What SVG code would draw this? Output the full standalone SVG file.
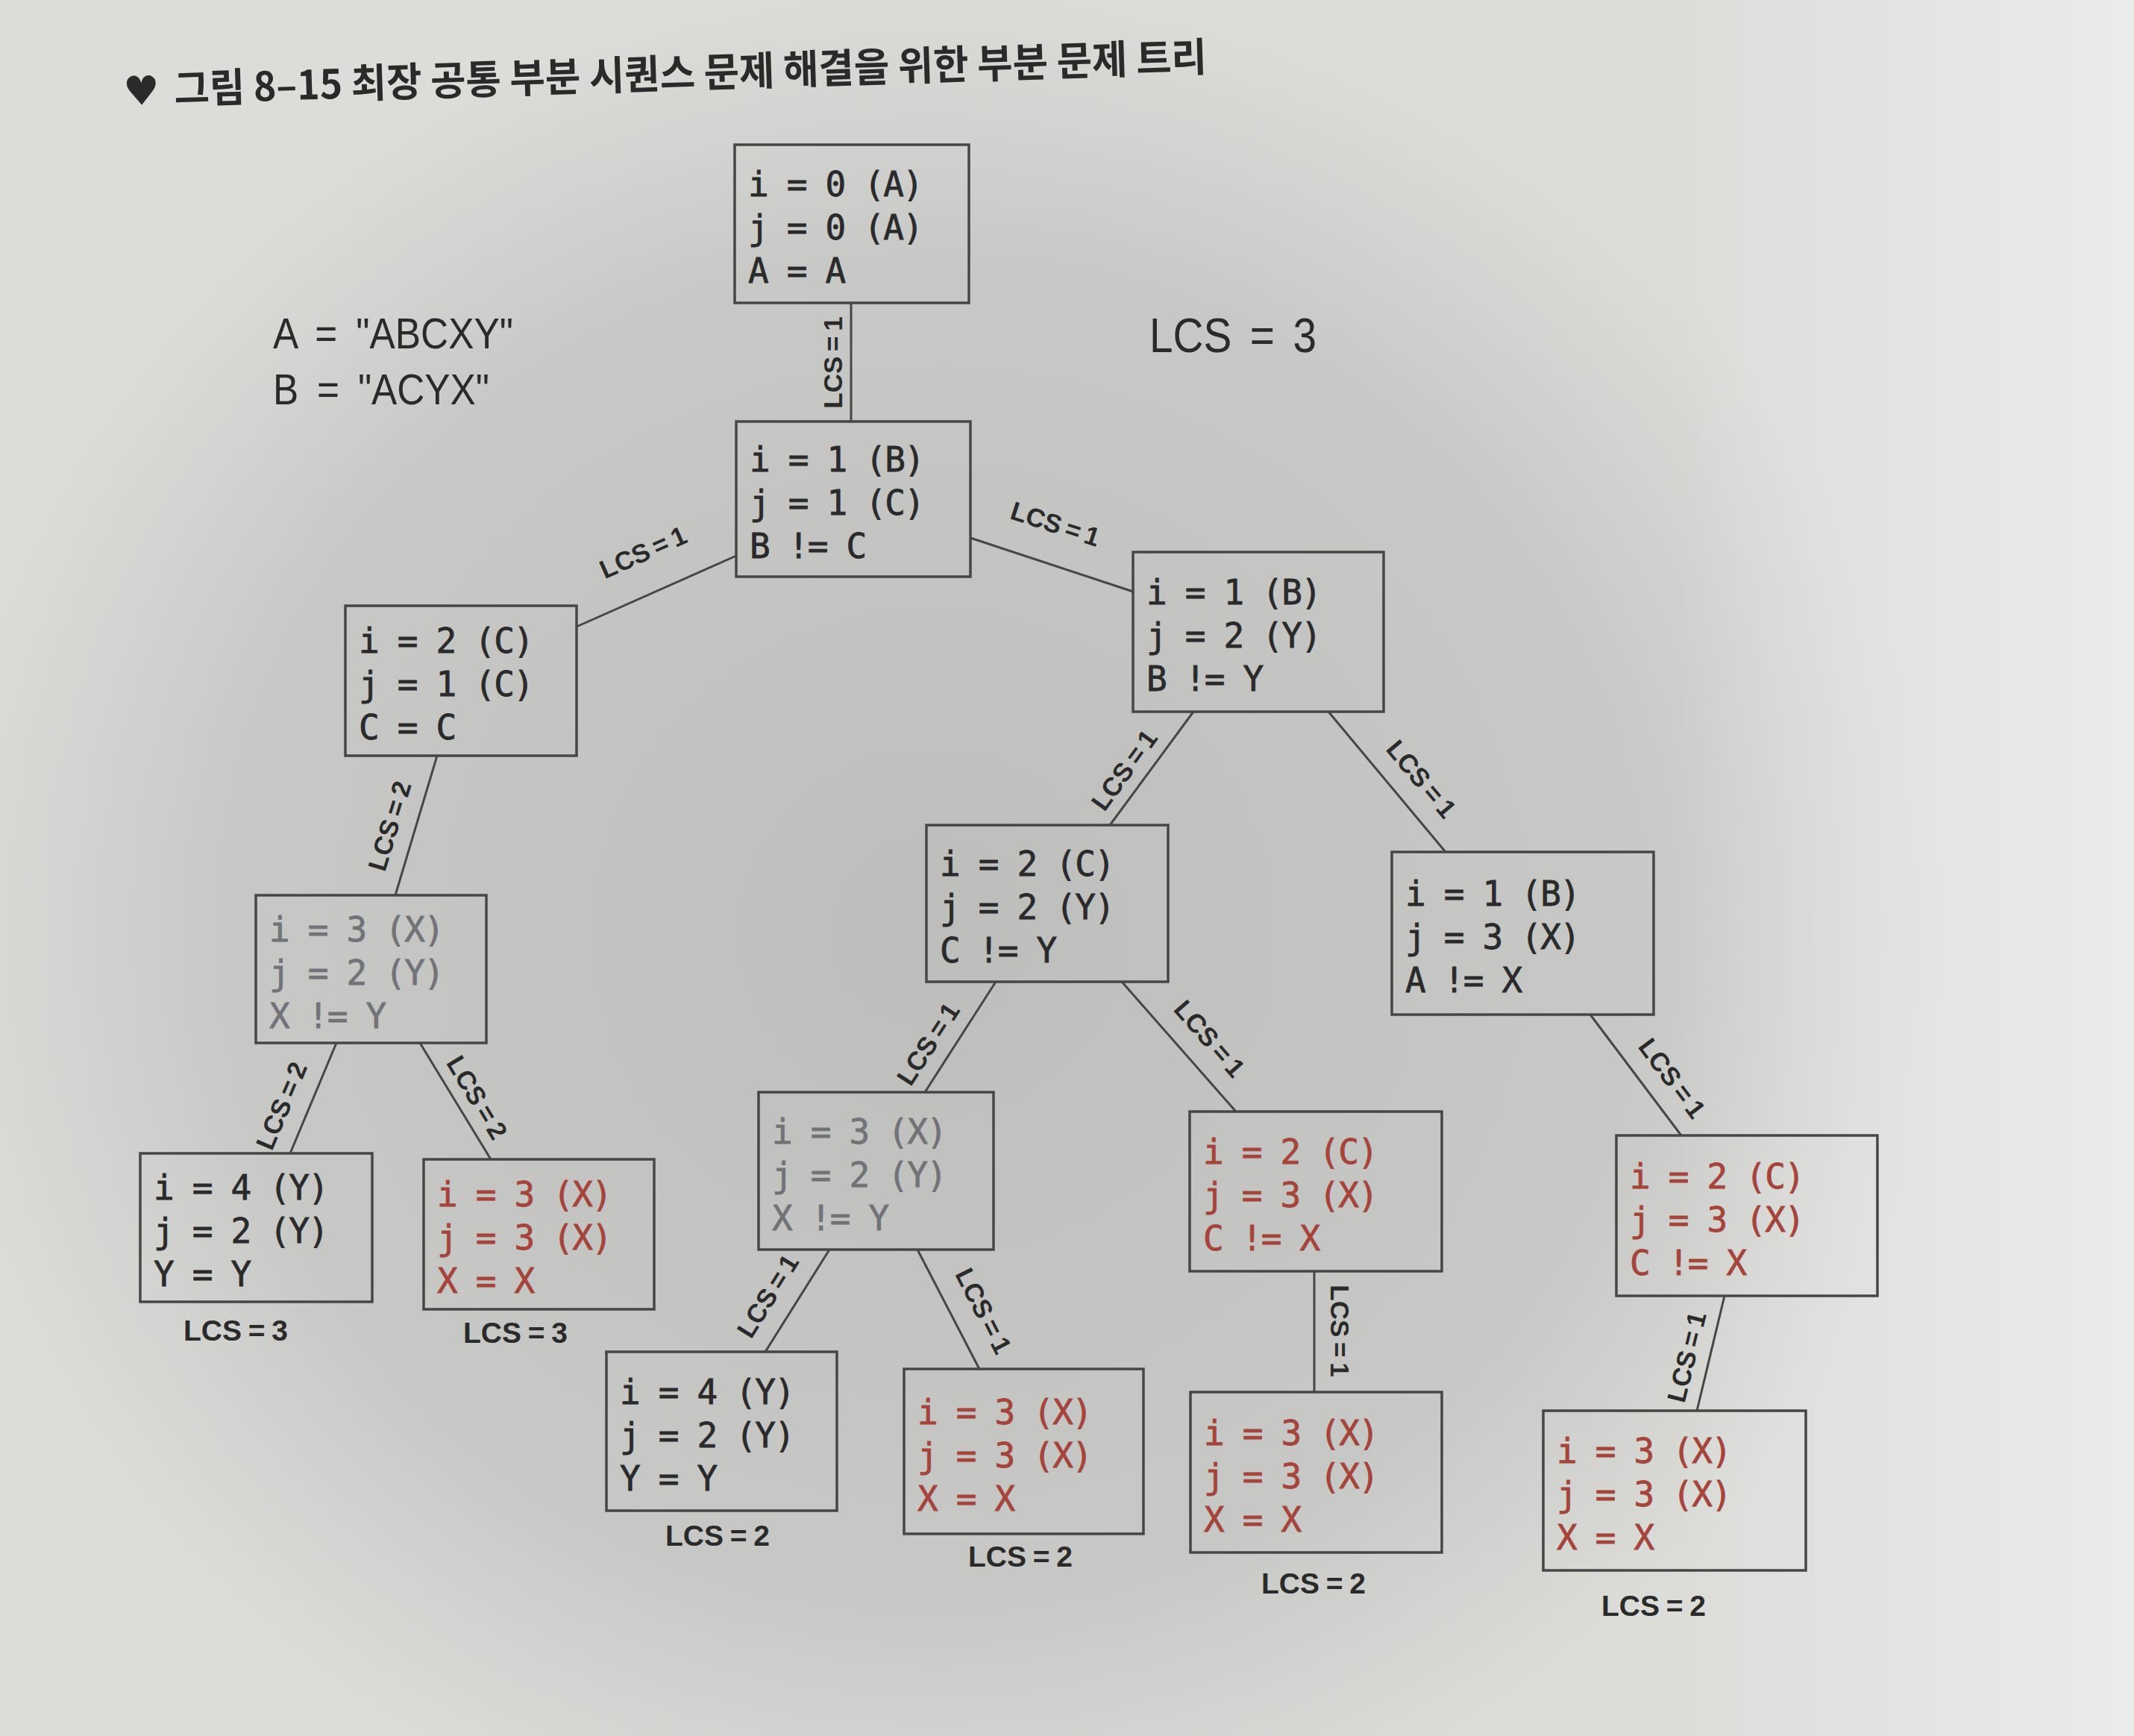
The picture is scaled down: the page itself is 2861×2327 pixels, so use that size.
<svg xmlns="http://www.w3.org/2000/svg" width="2861" height="2327" viewBox="0 0 2861 2327">
<defs>
<radialGradient id="shadow" cx="1250" cy="1250" r="1350" gradientUnits="userSpaceOnUse" gradientTransform="translate(1250 1250) scale(1 0.95) translate(-1250 -1250)">
<stop offset="0" stop-color="#bdbebb" stop-opacity="1"/>
<stop offset="0.7" stop-color="#c4c5c2" stop-opacity="0.85"/>
<stop offset="1" stop-color="#c6c7c4" stop-opacity="0"/>
</radialGradient>
<linearGradient id="rightlight" x1="2250" y1="0" x2="2861" y2="0" gradientUnits="userSpaceOnUse">
<stop offset="0" stop-color="#eef0ee" stop-opacity="0"/>
<stop offset="1" stop-color="#eef0ee" stop-opacity="0.8"/>
</linearGradient>
<style>
.box{fill:none;stroke:#464646;stroke-width:3.5}
.code{font-family:"DejaVu Sans Mono","Liberation Mono",monospace;font-size:46px;letter-spacing:-1.8px;stroke-width:0.8px}
.dark{fill:#2a2a2c;stroke:#2a2a2c}
.gray{fill:#727378;stroke:#727378}
.red{fill:#a5443b;stroke:#a5443b}
.edge{stroke:#464646;stroke-width:3;fill:none}
.elab{font-family:"Liberation Sans",Arial,sans-serif;font-weight:bold;font-size:35px;fill:#2a2a2a;text-anchor:middle;dominant-baseline:central;word-spacing:-3px}
.leaf{font-family:"Liberation Sans",Arial,sans-serif;font-weight:bold;font-size:39px;fill:#2a2a2a;text-anchor:middle;word-spacing:-2px}
.big{font-family:"Liberation Sans",Arial,sans-serif;fill:#2a2a2a}
</style>
</defs>
<rect width="2861" height="2327" fill="#dcdcd9"/>
<rect width="2861" height="2327" fill="url(#shadow)"/>
<rect width="2861" height="2327" fill="url(#rightlight)"/>

<g id="title" transform="rotate(-1.8 234 137)">
<text x="166" y="139" font-family="DejaVu Sans,sans-serif" font-size="54" fill="#2a2a2a">♥</text>
<text x="234" y="139" font-family="Noto Sans CJK KR,sans-serif" font-weight="bold" font-size="54" fill="#2a2a2a" textLength="1385" lengthAdjust="spacingAndGlyphs">그림 8–15 최장 공통 부분 시퀀스 문제 해결을 위한 부분 문제 트리</text>
</g>

<g id="strings" class="big" font-size="58" word-spacing="12">
<text x="366" y="467" textLength="322" lengthAdjust="spacingAndGlyphs">A = "ABCXY"</text>
<text x="366" y="542" textLength="290" lengthAdjust="spacingAndGlyphs">B = "ACYX"</text>
</g>
<g id="result" class="big" font-size="64" word-spacing="10">
<text x="1541" y="472" textLength="224" lengthAdjust="spacingAndGlyphs">LCS = 3</text>
</g>

<g id="connectors">
<line class="edge" x1="1141" y1="406" x2="1141" y2="565"/>
<line class="edge" x1="987" y1="745" x2="773" y2="840"/>
<line class="edge" x1="1301" y1="721" x2="1519" y2="793"/>
<line class="edge" x1="586" y1="1013" x2="530" y2="1200"/>
<line class="edge" x1="1600" y1="954" x2="1488" y2="1106"/>
<line class="edge" x1="1781" y1="954" x2="1938" y2="1142"/>
<line class="edge" x1="451" y1="1398" x2="389" y2="1546"/>
<line class="edge" x1="563" y1="1398" x2="658" y2="1554"/>
<line class="edge" x1="1335" y1="1316" x2="1240" y2="1464"/>
<line class="edge" x1="1504" y1="1316" x2="1657" y2="1490"/>
<line class="edge" x1="1112" y1="1675" x2="1026" y2="1812"/>
<line class="edge" x1="1230" y1="1675" x2="1313" y2="1835"/>
<line class="edge" x1="1762" y1="1704" x2="1762" y2="1866"/>
<line class="edge" x1="2132" y1="1360" x2="2254" y2="1522"/>
<line class="edge" x1="2312" y1="1737" x2="2275" y2="1891"/>
<g id="edge-labels">
<text class="elab" transform="translate(1116 486) rotate(-90)">LCS = 1</text>
<text class="elab" transform="translate(862 740) rotate(-24)">LCS = 1</text>
<text class="elab" transform="translate(1415 702) rotate(18)">LCS = 1</text>
<text class="elab" transform="translate(522 1107) rotate(-73)">LCS = 2</text>
<text class="elab" transform="translate(1507 1032) rotate(-54)">LCS = 1</text>
<text class="elab" transform="translate(1906 1044) rotate(50)">LCS = 1</text>
<text class="elab" transform="translate(377 1482) rotate(-67)">LCS = 2</text>
<text class="elab" transform="translate(640 1471) rotate(59)">LCS = 2</text>
<text class="elab" transform="translate(1244 1399) rotate(-57)">LCS = 1</text>
<text class="elab" transform="translate(1622 1392) rotate(49)">LCS = 1</text>
<text class="elab" transform="translate(1029 1737) rotate(-58)">LCS = 1</text>
<text class="elab" transform="translate(1319 1757) rotate(63)">LCS = 1</text>
<text class="elab" transform="translate(1796 1784) rotate(90)">LCS = 1</text>
<text class="elab" transform="translate(2242 1445) rotate(53)">LCS = 1</text>
<text class="elab" transform="translate(2261 1819) rotate(-76)">LCS = 1</text>
</g>
</g>

<g id="n0"><rect class="box" x="985" y="194" width="314" height="212"/>
<text class="code dark"><tspan x="1003" y="263">i = 0 (A)</tspan><tspan x="1003" y="321">j = 0 (A)</tspan><tspan x="1003" y="379">A = A</tspan></text></g>
<g id="n1"><rect class="box" x="987" y="565" width="314" height="208"/>
<text class="code dark"><tspan x="1005" y="632">i = 1 (B)</tspan><tspan x="1005" y="690">j = 1 (C)</tspan><tspan x="1005" y="748">B != C</tspan></text></g>
<g id="n2"><rect class="box" x="463" y="812" width="310" height="201"/>
<text class="code dark"><tspan x="481" y="875">i = 2 (C)</tspan><tspan x="481" y="933">j = 1 (C)</tspan><tspan x="481" y="991">C = C</tspan></text></g>
<g id="n3"><rect class="box" x="1519" y="740" width="336" height="214"/>
<text class="code dark"><tspan x="1537" y="810">i = 1 (B)</tspan><tspan x="1537" y="868">j = 2 (Y)</tspan><tspan x="1537" y="926">B != Y</tspan></text></g>
<g id="n4"><rect class="box" x="343" y="1200" width="309" height="198"/>
<text class="code gray"><tspan x="361" y="1262">i = 3 (X)</tspan><tspan x="361" y="1320">j = 2 (Y)</tspan><tspan x="361" y="1378">X != Y</tspan></text></g>
<g id="n5"><rect class="box" x="1242" y="1106" width="324" height="210"/>
<text class="code dark"><tspan x="1260" y="1174">i = 2 (C)</tspan><tspan x="1260" y="1232">j = 2 (Y)</tspan><tspan x="1260" y="1290">C != Y</tspan></text></g>
<g id="n6"><rect class="box" x="1866" y="1142" width="351" height="218"/>
<text class="code dark"><tspan x="1884" y="1214">i = 1 (B)</tspan><tspan x="1884" y="1272">j = 3 (X)</tspan><tspan x="1884" y="1330">A != X</tspan></text></g>
<g id="n7"><rect class="box" x="188" y="1546" width="311" height="199"/>
<text class="code dark"><tspan x="206" y="1608">i = 4 (Y)</tspan><tspan x="206" y="1666">j = 2 (Y)</tspan><tspan x="206" y="1724">Y = Y</tspan></text></g>
<g id="n8"><rect class="box" x="568" y="1554" width="309" height="201"/>
<text class="code red"><tspan x="586" y="1617">i = 3 (X)</tspan><tspan x="586" y="1675">j = 3 (X)</tspan><tspan x="586" y="1733">X = X</tspan></text></g>
<g id="n9"><rect class="box" x="1017" y="1464" width="315" height="211"/>
<text class="code gray"><tspan x="1035" y="1533">i = 3 (X)</tspan><tspan x="1035" y="1591">j = 2 (Y)</tspan><tspan x="1035" y="1649">X != Y</tspan></text></g>
<g id="n10"><rect class="box" x="1595" y="1490" width="338" height="214"/>
<text class="code red"><tspan x="1613" y="1560">i = 2 (C)</tspan><tspan x="1613" y="1618">j = 3 (X)</tspan><tspan x="1613" y="1676">C != X</tspan></text></g>
<g id="n11"><rect class="box" x="2167" y="1522" width="350" height="215"/>
<text class="code red"><tspan x="2185" y="1593">i = 2 (C)</tspan><tspan x="2185" y="1651">j = 3 (X)</tspan><tspan x="2185" y="1709">C != X</tspan></text></g>
<g id="n12"><rect class="box" x="813" y="1812" width="309" height="213"/>
<text class="code dark"><tspan x="831" y="1882">i = 4 (Y)</tspan><tspan x="831" y="1940">j = 2 (Y)</tspan><tspan x="831" y="1998">Y = Y</tspan></text></g>
<g id="n13"><rect class="box" x="1212" y="1835" width="321" height="221"/>
<text class="code red"><tspan x="1230" y="1909">i = 3 (X)</tspan><tspan x="1230" y="1967">j = 3 (X)</tspan><tspan x="1230" y="2025">X = X</tspan></text></g>
<g id="n14"><rect class="box" x="1596" y="1866" width="337" height="215"/>
<text class="code red"><tspan x="1614" y="1937">i = 3 (X)</tspan><tspan x="1614" y="1995">j = 3 (X)</tspan><tspan x="1614" y="2053">X = X</tspan></text></g>
<g id="n15"><rect class="box" x="2069" y="1891" width="352" height="214"/>
<text class="code red"><tspan x="2087" y="1961">i = 3 (X)</tspan><tspan x="2087" y="2019">j = 3 (X)</tspan><tspan x="2087" y="2077">X = X</tspan></text></g>

<g id="leaf-labels">
<text class="leaf" x="316" y="1797">LCS = 3</text>
<text class="leaf" x="691" y="1800">LCS = 3</text>
<text class="leaf" x="962" y="2072">LCS = 2</text>
<text class="leaf" x="1368" y="2100">LCS = 2</text>
<text class="leaf" x="1761" y="2136">LCS = 2</text>
<text class="leaf" x="2217" y="2166">LCS = 2</text>
</g>
</svg>
